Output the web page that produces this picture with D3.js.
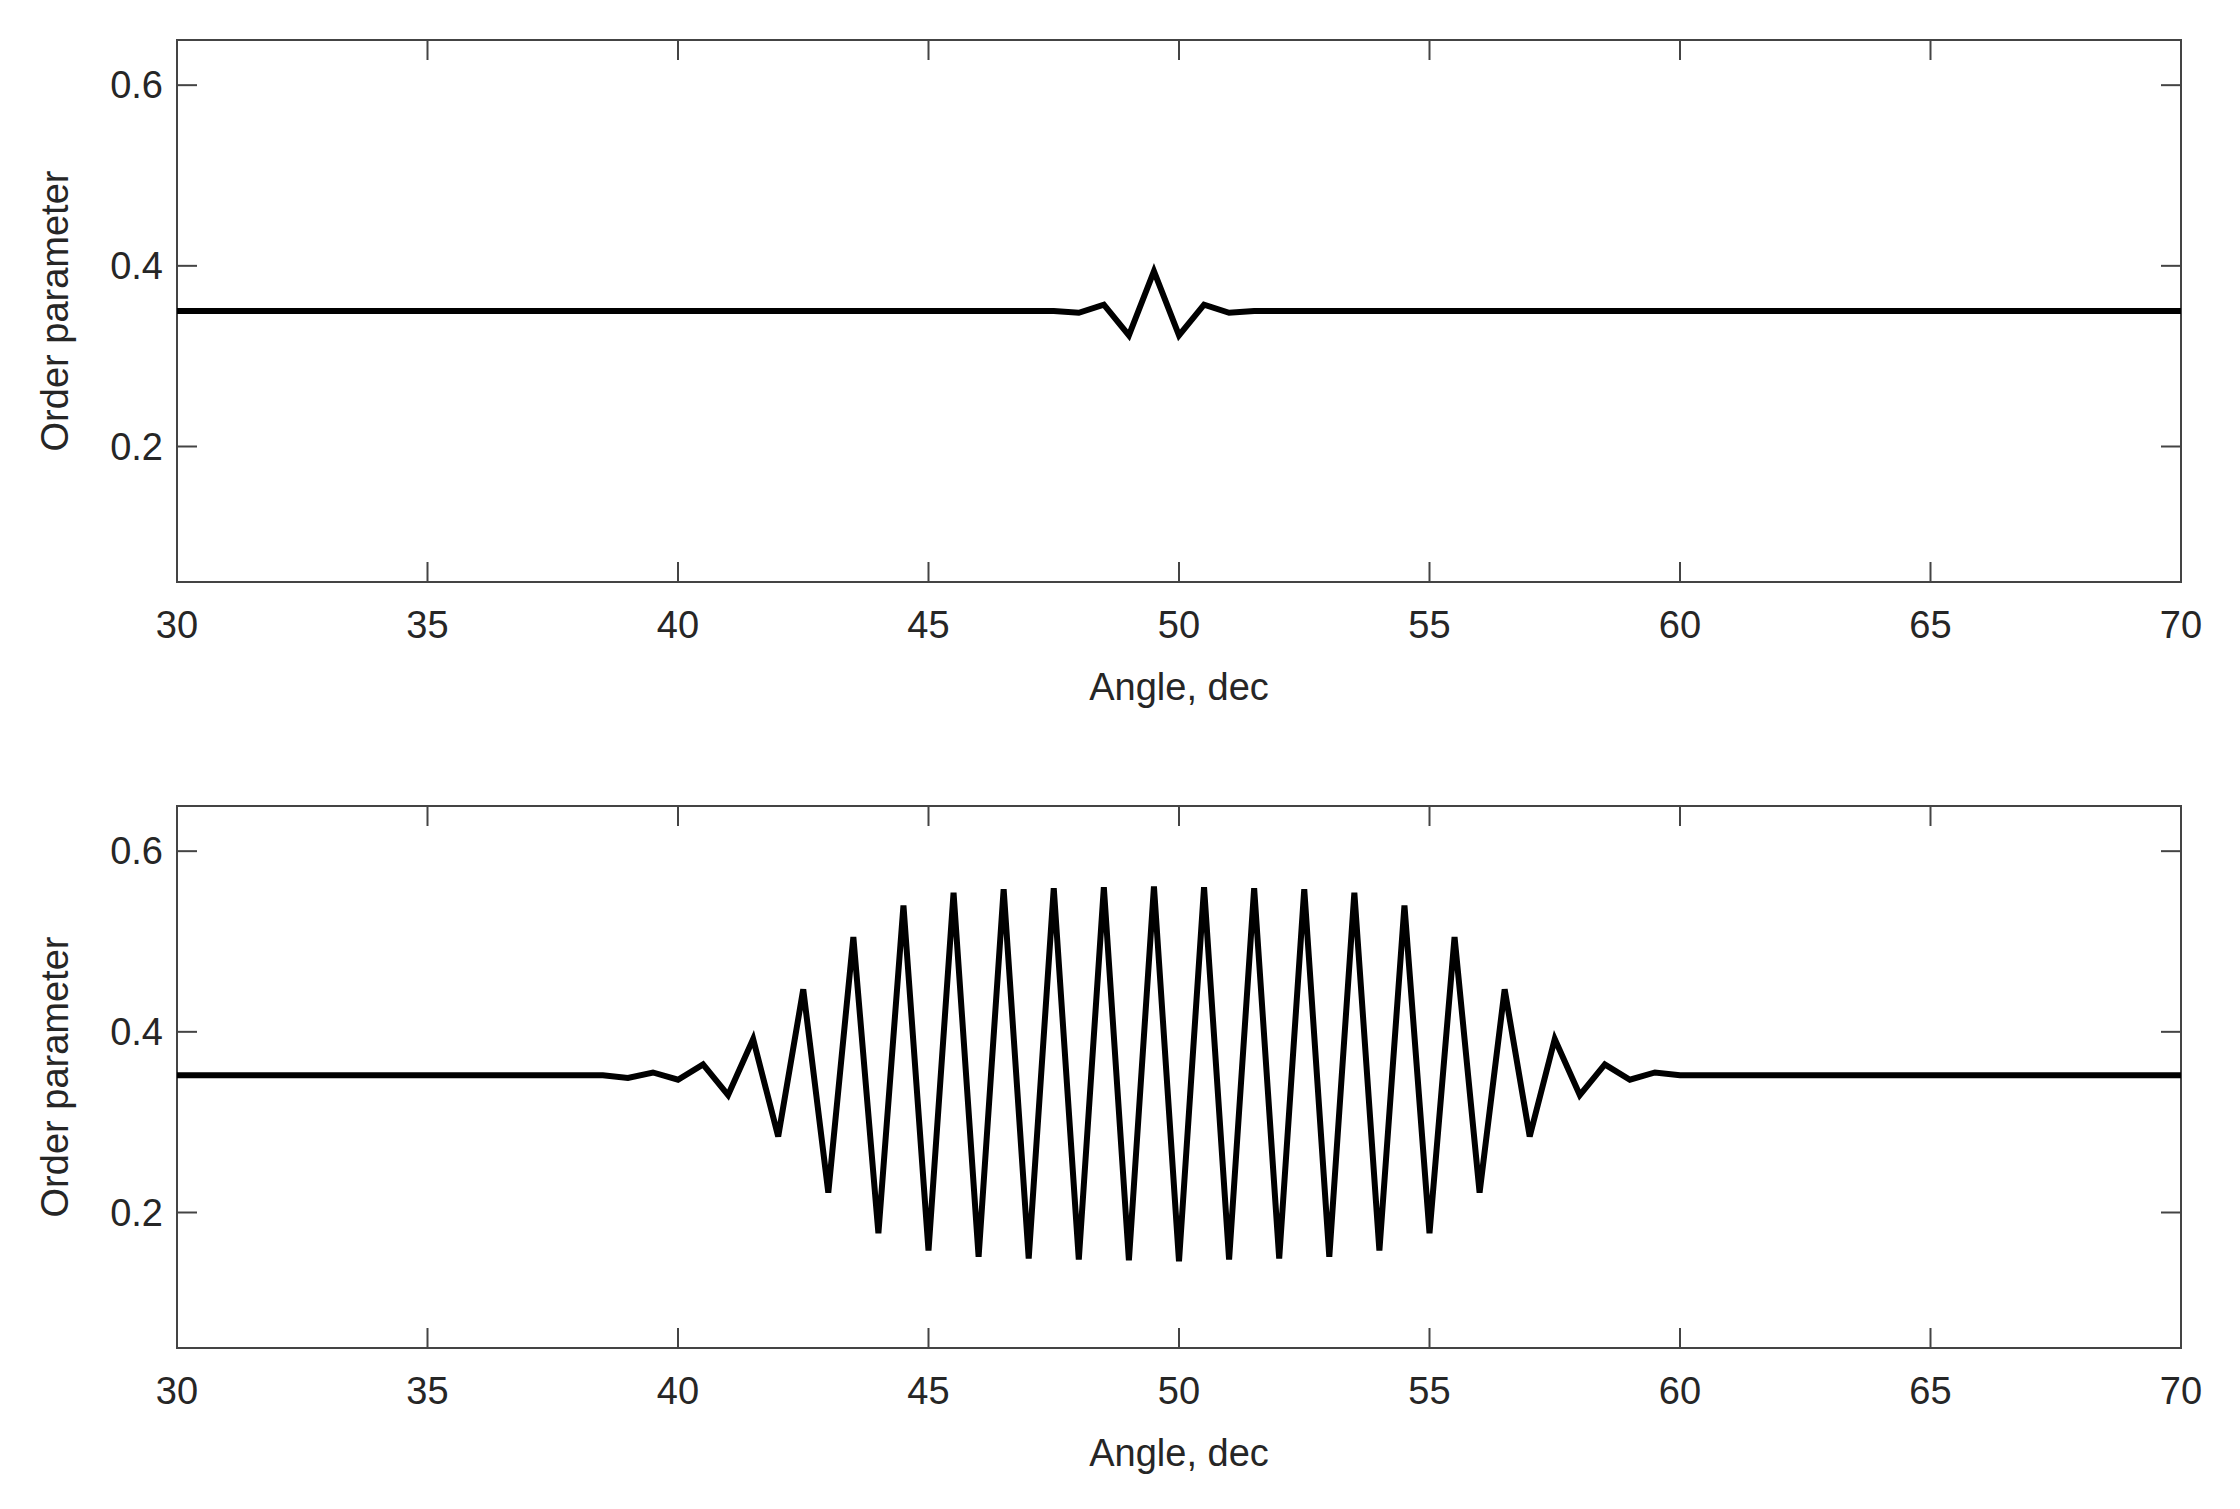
<!DOCTYPE html>
<html><head><meta charset="utf-8">
<script src="https://cdn.jsdelivr.net/npm/d3@7"></script>
<style>body{margin:0;background:#fff}</style></head>
<body><svg id="c" width="2240" height="1509"></svg>
<script>
const xTicks=[30,35,40,45,50,55,60,65,70];
const yTicks=[0.2,0.4,0.6];
const topX=[30,47.5,48,48.5,49,49.5,50,50.5,51,51.5,70];
const topY=[0.35,0.35,0.348,0.357,0.323,0.394,0.323,0.357,0.348,0.35,0.35];
const botX=[30,38.5,39,39.5,40,40.5,41,41.5,42,42.5,43,43.5,44,44.5,45,45.5,46,46.5,47,47.5,48,48.5,49,49.5,50,50.5,51,51.5,52,52.5,53,53.5,54,54.5,55,55.5,56,56.5,57,57.5,58,58.5,59,59.5,60,60.5,70];
const botY=[0.352,0.352,0.349,0.355,0.347,0.364,0.33,0.392,0.284,0.447,0.222,0.505,0.177,0.54,0.158,0.554,0.151,0.558,0.149,0.559,0.148,0.56,0.147,0.561,0.146,0.56,0.148,0.559,0.149,0.558,0.151,0.554,0.158,0.54,0.177,0.505,0.222,0.447,0.284,0.392,0.33,0.364,0.347,0.355,0.352,0.352,0.352];
const svg=d3.select("#c");
const L=177,R=2181;
const font="Liberation Sans, Arial, sans-serif";
function panel(top,bottom,xs,ys){
  const x=d3.scaleLinear().domain([30,70]).range([L,R]);
  const y=d3.scaleLinear().domain([0.05,0.65]).range([bottom,top]);
  const g=svg.append("g");
  const tl=20, col="#444";
  xTicks.forEach(t=>{
    g.append("line").attr("x1",x(t)).attr("x2",x(t)).attr("y1",bottom).attr("y2",bottom-tl).attr("stroke",col).attr("stroke-width",2);
    g.append("line").attr("x1",x(t)).attr("x2",x(t)).attr("y1",top).attr("y2",top+tl).attr("stroke",col).attr("stroke-width",2);
    g.append("text").attr("x",x(t)).attr("y",bottom+56).attr("text-anchor","middle").attr("font-family",font).attr("font-size",38).attr("fill","#262626").text(t);
  });
  yTicks.forEach(t=>{
    g.append("line").attr("x1",L).attr("x2",L+tl).attr("y1",y(t)).attr("y2",y(t)).attr("stroke",col).attr("stroke-width",2);
    g.append("line").attr("x1",R).attr("x2",R-tl).attr("y1",y(t)).attr("y2",y(t)).attr("stroke",col).attr("stroke-width",2);
    g.append("text").attr("x",L-14).attr("y",y(t)+13).attr("text-anchor","end").attr("font-family",font).attr("font-size",38).attr("fill","#262626").text(t.toFixed(1));
  });
  g.append("rect").attr("x",L).attr("y",top).attr("width",R-L).attr("height",bottom-top).attr("fill","none").attr("stroke",col).attr("stroke-width",2);
  const line=d3.line().x((d,i)=>x(xs[i])).y(d=>y(d));
  g.append("path").attr("d",line(ys)).attr("fill","none").attr("stroke","#000").attr("stroke-width",6).attr("stroke-linejoin","miter");
  g.append("text").attr("x",(L+R)/2).attr("y",bottom+118).attr("text-anchor","middle").attr("font-family",font).attr("font-size",38).attr("fill","#262626").text("Angle, dec");
  const cy=(top+bottom)/2;
  g.append("text").attr("transform",`translate(68,${cy}) rotate(-90)`).attr("text-anchor","middle").attr("font-family",font).attr("font-size",38).attr("fill","#262626").text("Order parameter");
}
panel(40,582,topX,topY);
panel(806,1348,botX,botY);
</script></body></html>
